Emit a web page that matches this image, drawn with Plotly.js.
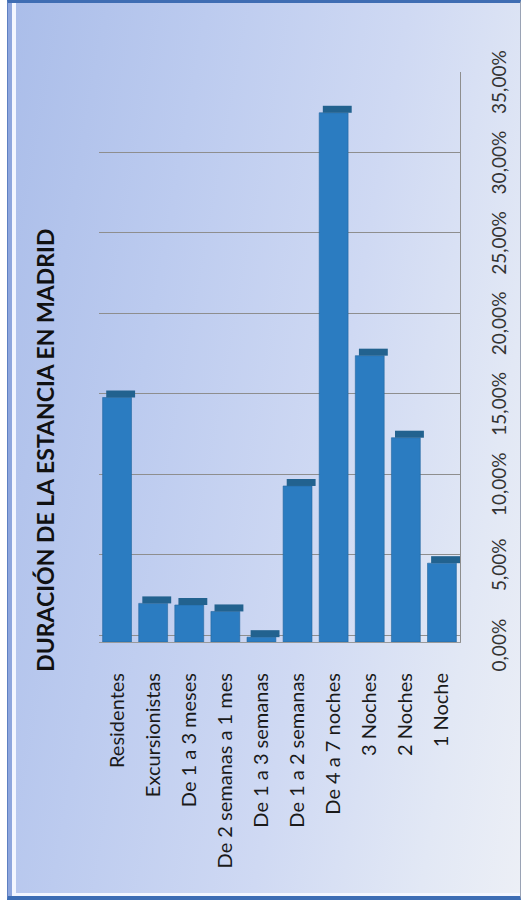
<!DOCTYPE html>
<html>
<head>
<meta charset="utf-8">
<script src="https://cdn.plot.ly/plotly-3.0.1.min.js"></script>
<style>
  html, body { margin: 0; padding: 0; background: #ffffff; }
  #frame {
    position: absolute; left: 7px; top: 0; width: 512px; height: 893px;
    border-top: 3px solid #3f6db3; border-bottom: 4px solid #3d6db4;
    border-left: 1px solid #5e80c2; border-right: 1px solid #9aa3b5;
    background: linear-gradient(100deg, #aabde9 0%, #bccbef 30%, #cfd9f3 60%, #e2e8f5 85%, #eceff6 100%);
    box-shadow: inset 4px 0 0 #8ea6dd, inset 8px 0 0 #f3f6ff, inset 0 -3px 0 #f3f6ff;
  }
  #chart { position: absolute; left: 0; top: 0; width: 524px; height: 903px; }
</style>
</head>
<body>
<div id="frame"></div>
<div id="chart"></div>
<script>
// ---- data ----
const categories = [
  'Residentes', 'Excursionistas', 'De 1 a 3 meses', 'De 2 semanas a 1 mes',
  'De 1 a 3 semanas', 'De 1 a 2 semanas', 'De 4 a 7 noches',
  '3 Noches', '2 Noches', '1 Noche'
];
const shares = [0.152, 0.024, 0.023, 0.019, 0.003, 0.097, 0.329, 0.178, 0.127, 0.049];
const valueTicks = [0, 0.05, 0.10, 0.15, 0.20, 0.25, 0.30, 0.35];
const chartTitle = 'DURACIÓN DE LA ESTANCIA EN MADRID';

// ---- style constants ----
const depth = 0.00435;            // 3D depth of bars (in value units, ~7px)
const frontColor = '#2b7cc1';
const capColor = '#22628f';
const font = 'Lato, "Open Sans", sans-serif';

const traces = [
  {
    type: 'bar', x: categories, y: shares, yaxis: 'y',
    width: 0.8, offset: -0.4,
    marker: { color: frontColor, line: { color: '#24679f', width: 0.6 } },
    hoverinfo: 'x+y', showlegend: false
  },
  {
    type: 'bar', x: categories, y: shares.map(() => depth), base: shares, yaxis: 'y',
    width: 0.8, offset: -0.3,
    marker: { color: capColor, line: { width: 0 } },
    hoverinfo: 'skip', showlegend: false
  },
  {
    type: 'scatter', mode: 'markers', x: categories, y: shares, yaxis: 'y2',
    marker: { opacity: 0 }, hoverinfo: 'skip', showlegend: false
  }
];

const layout = {
  width: 524, height: 903,
  margin: { l: 99, r: 64, t: 72, b: 261, pad: 0 },
  paper_bgcolor: 'rgba(0,0,0,0)',
  plot_bgcolor: 'rgba(0,0,0,0)',
  separators: ',.',
  barmode: 'overlay',
  showlegend: false,
  xaxis: {
    type: 'category', range: [-0.5, categories.length - 0.5],
    tickangle: -90, ticks: '', ticklabelstandoff: 22,
    tickfont: { family: font, size: 20, color: '#1a1a1a' },
    showline: true, linecolor: '#9a9a9a', linewidth: 1,
    showgrid: false, zeroline: false, fixedrange: true
  },
  yaxis: {
    range: [0, 0.35 + depth], showgrid: false, showticklabels: false,
    zeroline: false, showline: false, fixedrange: true
  },
  yaxis2: {
    overlaying: 'y', side: 'right', anchor: 'x',
    range: [-depth, 0.35], tickvals: valueTicks, tickformat: '.2%',
    tickangle: -90, ticks: '', ticklabelshift: 13, ticklabelstandoff: 22,
    tickfont: { family: font, size: 19, color: '#333333' },
    showgrid: true, gridcolor: '#8e8e8e', gridwidth: 1,
    showline: true, linecolor: '#8e8e8e', linewidth: 1,
    zeroline: false, fixedrange: true
  },
  annotations: [{
    text: '<b>' + chartTitle + '</b>', textangle: -90,
    xref: 'paper', yref: 'paper', x: -0.15, y: 0.337,
    xanchor: 'center', yanchor: 'middle', showarrow: false,
    font: { family: font, size: 23, color: '#111111' }
  }]
};

Plotly.newPlot('chart', traces, layout, { displayModeBar: false, staticPlot: true });
</script>
</body>
</html>
